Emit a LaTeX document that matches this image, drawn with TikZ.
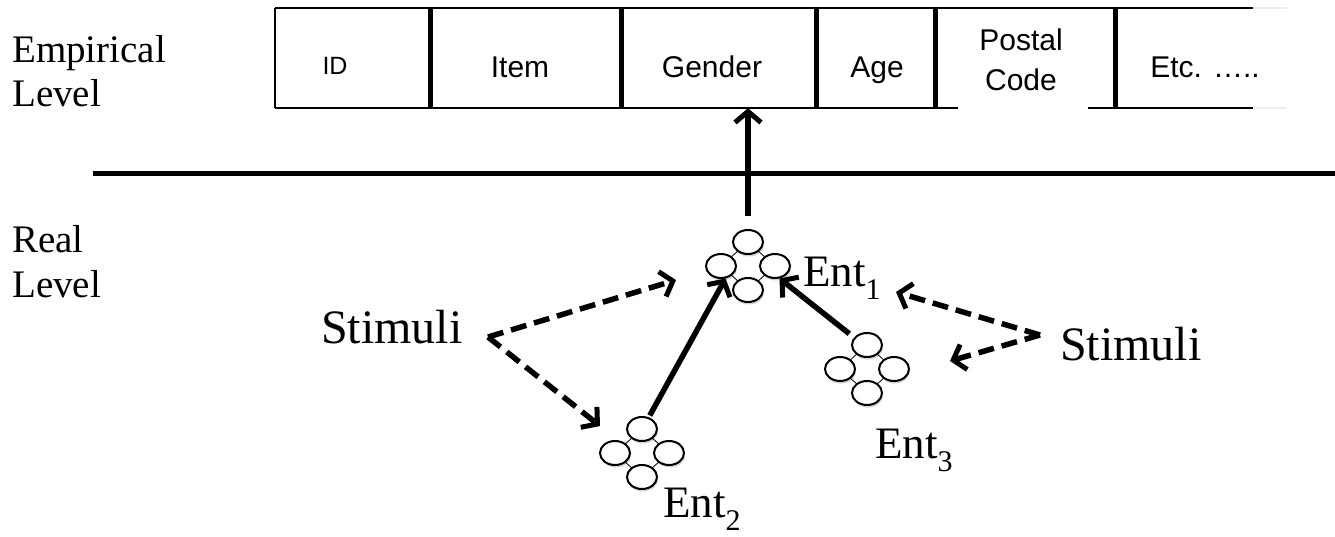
\documentclass[tikz,border=0pt]{standalone}
\usepackage{fontspec}
\setmainfont{Liberation Serif}
\newfontfamily\arialf{Liberation Sans}
\usetikzlibrary{arrows.meta,shapes.geometric}
\newcommand\entsub[1]{\raisebox{-13pt}{\fontsize{30}{30}\selectfont #1}}
\begin{document}
\begin{tikzpicture}[x=1pt,y=-1pt,
  lvl/.style={anchor=base west, inner sep=0, font=\fontsize{39}{44}\selectfont},
  cell/.style={inner sep=0, text height=40pt, text depth=0pt, minimum height=100pt, font=\arialf\fontsize{30}{36}\selectfont},
  big/.style={anchor=base west, inner sep=0, font=\fontsize{48}{52}\selectfont},
  entlbl/.style={anchor=base west, inner sep=0, font=\fontsize{45}{48}\selectfont},
  blob/.style={ellipse, draw, line width=2pt, fill=white, minimum width=30pt, minimum height=24pt, inner sep=0},
  blobshade/.style={ellipse, fill=gray!35, minimum width=30pt, minimum height=24pt, inner sep=0},
  arr/.style={line width=5.5pt, -{Straight Barb[length=11pt,width=26pt,line width=5pt]}},
  darr/.style={arr, dash pattern=on 16pt off 8pt},
  thinrule/.style={line width=2.5pt},
  divider/.style={line width=5pt},
  pics/ent/.style={code={
    \foreach \px/\py in {0/-24,-27/0,27/0,0/24}
      \node[blobshade] at (\px+1,\py+2.5) {};
    \draw[line width=0.8pt] (0,-24) -- (-27,0) -- (0,24) -- (27,0) -- cycle;
    \node[blob] (-t) at (0,-24) {};
    \node[blob] (-l) at (-27,0) {};
    \node[blob] (-r) at (27,0) {};
    \node[blob] (-b) at (0,24) {};
  }}
]
\useasboundingbox (0,0) rectangle (1335,537);

% level labels
\node[lvl] (emp1) at (12,63) {Empirical};
\node[lvl] (emp2) at (12,107) {Level};
\node[lvl] (real1) at (12,253) {Real};
\node[lvl] (real2) at (12,297) {Level};

% table lines
\draw[thinrule] (275,8) -- (1253,8);
\draw[thinrule] (275,108) -- (1253,108);
\draw[thinrule] (275,8) -- (275,108);
\draw[gray!15, line width=1.5pt] (1253,8) -- (1287,8) (1253,108) -- (1287,108);
\fill[white] (958,103) rectangle (1088,113);
\foreach \dx in {430,621,816,935,1115}
  \draw[divider] (\dx,8) -- (\dx,108);

% table cells
\node[cell, font=\arialf\fontsize{25}{30}\selectfont, text height=33pt] (id) at (335,58) {ID};
\node[cell] (item) at (520,58) {Item};
\node[cell] (gender) at (712,58) {Gender};
\node[cell] (age) at (877,58) {Age};
\node[inner sep=0, align=center, font=\arialf\fontsize{30}{40}\selectfont] (postal) at (1021,60) {Postal\\Code};
\node[cell] (etc) at (1205,58) {Etc. …..};

% separator
\draw[line width=5pt] (93,174) -- (1335,174);

% entity clusters
\pic (e1) at (748,266) {ent};
\pic (e2) at (642,453) {ent};
\pic (e3) at (867,369) {ent};

\node[entlbl] (ent1) at (803,287) {Ent\entsub{1}};
\node[entlbl] (ent2) at (663,517) {Ent\entsub{2}};
\node[entlbl] (ent3) at (875,458) {Ent\entsub{3}};

\node[big] (stimL) at (321,343) {Stimuli};
\node[big] (stimR) at (1060,360) {Stimuli};

% coordinates for dashed arrows
\coordinate (sL) at (488,337);
\coordinate (tA) at (676,280);
\coordinate (tB) at (600,426);
\coordinate (sR) at (1040,335);
\coordinate (tC) at (896,292);
\coordinate (tD) at (950,361);

\draw[darr] (sL) -- (tA);
\draw[darr] (sL) -- (tB);
\draw[darr] (sR) -- (tC);
\draw[darr] (sR) -- (tD);

% solid arrows
\draw[arr, shorten <=12.5pt] (e1-t.north) -- (e1-t.north |- gender.south);
\draw[arr, shorten <=2pt] (e2-t.60) -- (e1-l.-70);
\draw[arr, shorten <=6pt] (e3-t.150) -- (e1-r.-70);
\end{tikzpicture}
\end{document}
